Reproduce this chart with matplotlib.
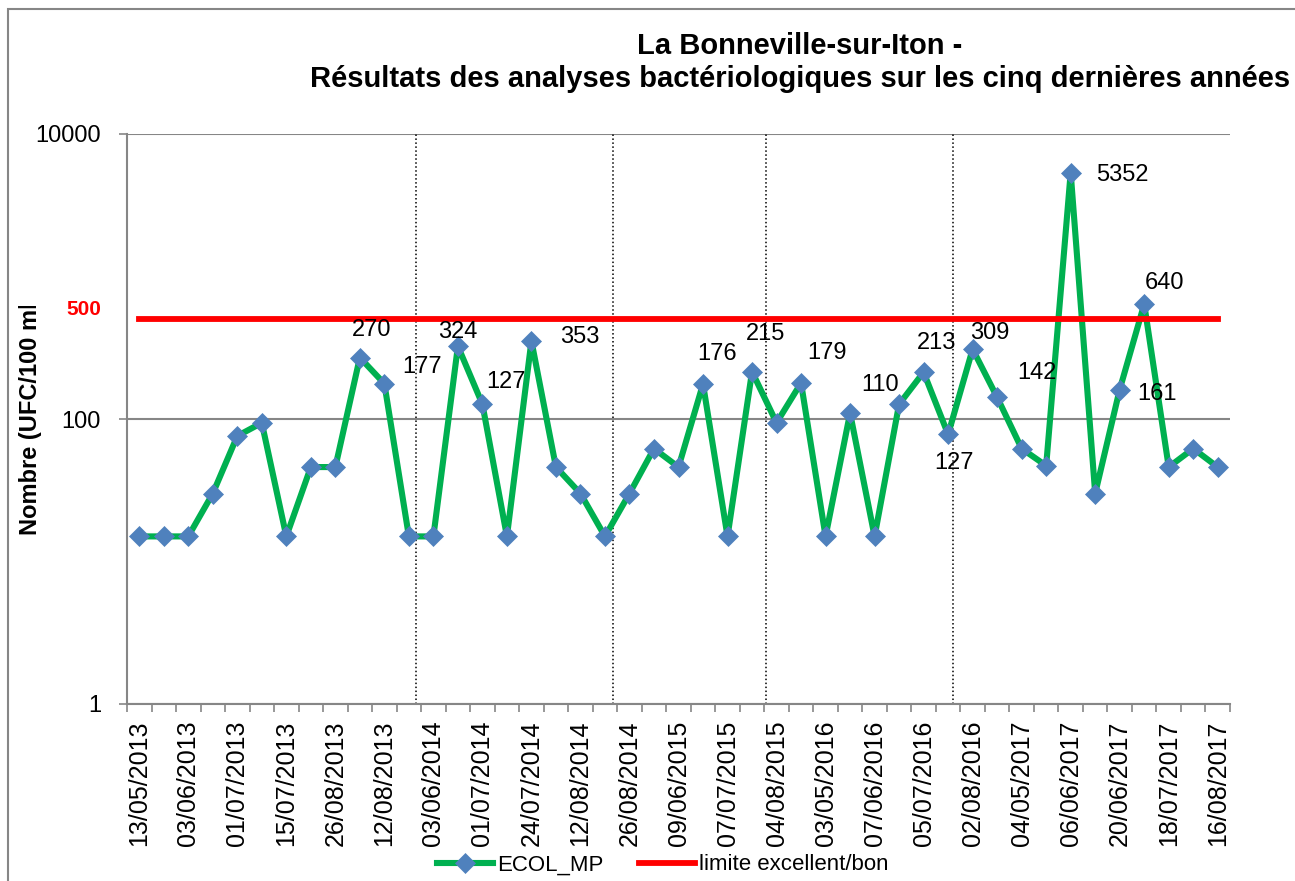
import numpy as np
import matplotlib
matplotlib.use("Agg")
import matplotlib.pyplot as plt
from matplotlib.patches import Rectangle
from matplotlib.transforms import Bbox, TransformedBbox

plt.rcParams['font.family'] = ['Liberation Sans', 'DejaVu Sans']

TITLE_1 = "La Bonneville-sur-Iton -"
TITLE_2 = "Résultats des analyses bactériologiques sur les cinq dernières années"
Y_LABEL = "Nombre (UFC/100 ml)"

# one sample every category, only every other date is printed on the axis
ecol_mp = [15, 15, 15, 30, 76, 94, 15, 46, 46, 270,
           177, 15, 15, 324, 127, 15, 353, 46, 30, 15,
           30, 62, 46, 176, 15, 215, 94, 179, 15, 110,
           15, 127, 213, 78, 309, 142, 62, 47, 5352, 30,
           161, 640, 46, 62, 46]
limite = [500] * len(ecol_mp)

date_labels = ["13/05/2013", "03/06/2013", "01/07/2013", "15/07/2013", "26/08/2013",
               "12/08/2013", "03/06/2014", "01/07/2014", "24/07/2014", "12/08/2014",
               "26/08/2014", "09/06/2015", "07/07/2015", "04/08/2015", "03/05/2016",
               "07/06/2016", "05/07/2016", "02/08/2016", "04/05/2017", "06/06/2017",
               "20/06/2017", "18/07/2017", "16/08/2017"]

labelled_points = [9, 10, 13, 14, 16, 23, 25, 27, 29, 31, 32, 34, 35, 38, 40, 41]

# year separators (hand drawn in the original), in category units
year_breaks = [11.31, 19.31, 25.59, 33.18]

# where each data label sits relative to its point, in pixels
label_offsets = {9: (12, 28), 10: (38, 17), 13: (0, 14), 14: (24, 22), 16: (48, 4),
                 23: (14, 30), 25: (14, 38), 27: (26, 30), 29: (30, 28), 31: (55, -59),
                 32: (13, 29), 34: (17, 16), 35: (40, 24), 38: (52, -2), 40: (37, -4),
                 41: (20, 21)}

GREEN = '#00B050'
BLUE = '#4F81BD'
GREY = '#868686'

W, H = 1295, 881
fig = plt.figure(figsize=(W / 100, H / 100), dpi=100)
ax = fig.add_axes([127 / W, 1 - 704 / H, (1230 - 127) / W, (704 - 134) / H])

x = np.arange(len(ecol_mp))
ax.plot(x, ecol_mp, color=GREEN, lw=4.4, marker='D', ms=10.5, mfc=BLUE, mec=BLUE,
        mew=0.5, label='ECOL_MP', zorder=3, solid_joinstyle='round')
ax.plot(x, limite, color='#FF0000', lw=4.2, label='limite excellent/bon', zorder=4)

for xb in year_breaks:
    ax.axvline(xb, color='black', lw=1.1, linestyle=(0, (1, 1.6)), zorder=2)

for i in labelled_points:
    dx, dy = label_offsets[i]
    ax.annotate(str(ecol_mp[i]), xy=(x[i], ecol_mp[i]), xytext=(dx, dy),
                textcoords='offset pixels', ha='center', va='center',
                fontsize=17, zorder=5)

ax.set_yscale('log')
ax.set_ylim(1, 10000)
ax.set_xlim(-0.5, len(ecol_mp) - 0.5)
ax.set_yticks([1, 100, 10000])
ax.set_yticklabels(['1', '100', '10000'])
ax.yaxis.set_minor_locator(matplotlib.ticker.NullLocator())
ax.tick_params(axis='y', which='major', direction='out', length=5.8, width=1.2,
               color=GREY, pad=13, labelsize=17)

ax.set_xticks(x[::2])
ax.set_xticklabels(date_labels, rotation=90)
ax.set_xticks(np.arange(-0.5, len(ecol_mp)), minor=True)
ax.tick_params(axis='x', which='major', length=0, pad=12, labelsize=18)
ax.tick_params(axis='x', which='minor', direction='out', length=5.8, width=1.2, color=GREY)

ax.grid(axis='y', which='major', color=GREY, lw=1.5, zorder=1)
ax.set_axisbelow(True)
for side in ('top', 'right'):
    ax.spines[side].set_visible(False)
for side in ('left', 'bottom'):
    ax.spines[side].set_color(GREY)
    ax.spines[side].set_linewidth(1.5)

ax.annotate('500', xy=(0, 500), xycoords=('axes fraction', 'data'), xytext=(-43, 10),
            textcoords='offset pixels', ha='center', va='center', color='#FF0000',
            fontsize=15, fontweight='bold')

fig.text(800 / W, 1 - 54 / H, TITLE_1, ha='center', va='baseline', fontsize=21, fontweight='bold')
fig.text(800 / W, 1 - 87 / H, TITLE_2, ha='center', va='baseline', fontsize=21, fontweight='bold')

# the axis title is cut off at the top in the original
ylab = fig.text(31 / W, 1 - 535 / H, Y_LABEL, rotation=90, ha='center', va='bottom',
                fontsize=17, fontweight='bold')
ylab.set_clip_box(TransformedBbox(Bbox([[0, 0], [0.2, 1 - 306 / H]]), fig.transFigure))
ylab.set_clip_on(True)

fig.legend(loc='center', bbox_to_anchor=(663 / W, 1 - 865 / H), ncol=2, frameon=False,
           fontsize=16, handlelength=2.5, handletextpad=0.2, columnspacing=1.6,
           borderpad=0, numpoints=1)

fig.patches.append(Rectangle((8 / W, -0.1), 2, 1.1 - 9 / H, transform=fig.transFigure,
                             fill=False, edgecolor=GREY, lw=1.5))

fig.savefig('out.png', dpi=100)
